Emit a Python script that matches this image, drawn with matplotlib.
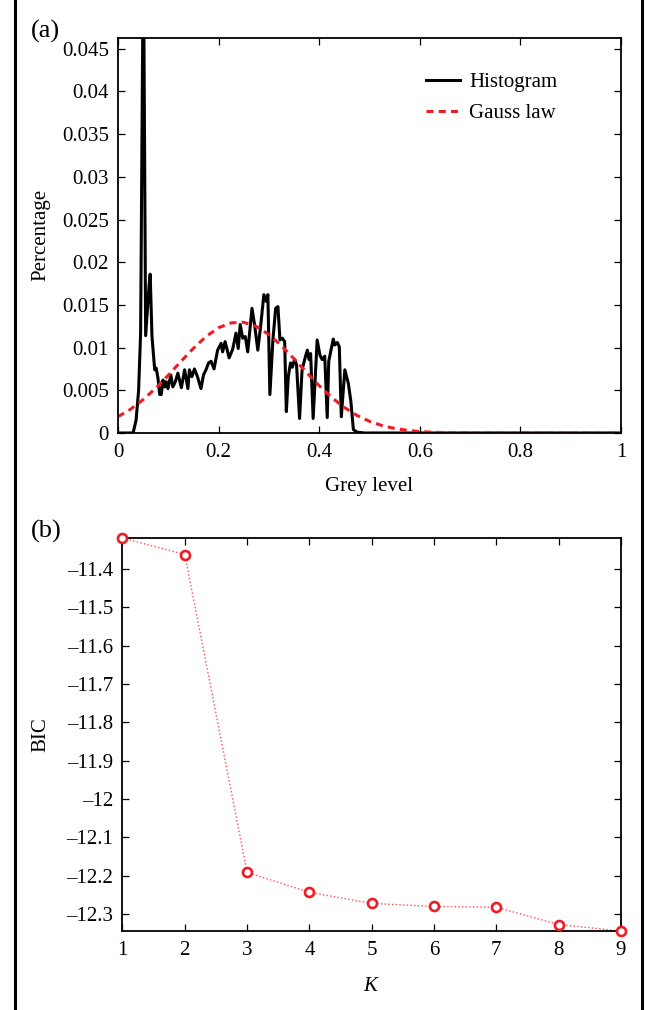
import numpy as np
import matplotlib
matplotlib.use("Agg")
import matplotlib.pyplot as plt
from matplotlib.ticker import FuncFormatter
from matplotlib.lines import Line2D

plt.rcParams['font.family'] = ['Liberation Serif', 'DejaVu Serif']
plt.rcParams['mathtext.fontset'] = 'custom'
plt.rcParams['mathtext.it'] = 'Liberation Serif:italic'

# (a) histogram
hist_x = [0.0, 0.03, 0.036, 0.041, 0.045, 0.0505, 0.055, 0.0616, 0.064, 0.0676,
          0.073, 0.076, 0.0795, 0.083, 0.086, 0.0895, 0.093, 0.096, 0.0994, 0.105,
          0.109, 0.114, 0.119, 0.126, 0.1325, 0.139, 0.142, 0.147, 0.152, 0.158,
          0.165, 0.17, 0.175, 0.18, 0.185, 0.191, 0.198, 0.205, 0.208, 0.213,
          0.221, 0.228, 0.2346, 0.239, 0.243, 0.248, 0.253, 0.258, 0.2664, 0.272,
          0.278, 0.2836, 0.29, 0.295, 0.298, 0.302, 0.308, 0.3135, 0.318, 0.322,
          0.3267, 0.3314, 0.3347, 0.3386, 0.343, 0.3466, 0.351, 0.355, 0.361, 0.366,
          0.372, 0.3764, 0.38, 0.383, 0.388, 0.396, 0.4016, 0.406, 0.411, 0.416,
          0.419, 0.428, 0.431, 0.436, 0.44, 0.444, 0.451, 0.458, 0.463, 0.468,
          0.475, 0.49, 1.0]
hist_y = [0.0, 0.0, 0.0015, 0.005, 0.0117, 0.058, 0.0114, 0.0171, 0.0186, 0.0113,
          0.0074, 0.0076, 0.0064, 0.0045, 0.0045, 0.0062, 0.0054, 0.006, 0.0052, 0.0068,
          0.0054, 0.006, 0.007, 0.0053, 0.0074, 0.0052, 0.0074, 0.0066, 0.0075, 0.0066,
          0.0052, 0.0068, 0.0074, 0.0082, 0.0084, 0.0075, 0.0097, 0.0105, 0.0095, 0.0107,
          0.0088, 0.0098, 0.0117, 0.0099, 0.0127, 0.0111, 0.0113, 0.0095, 0.0146, 0.0125,
          0.0097, 0.0125, 0.0162, 0.0154, 0.0162, 0.0045, 0.0109, 0.0146, 0.0148, 0.0109,
          0.0111, 0.0107, 0.0025, 0.0066, 0.0082, 0.0077, 0.0086, 0.008, 0.0017, 0.0074,
          0.0088, 0.0097, 0.0086, 0.0093, 0.0017, 0.0109, 0.0091, 0.0086, 0.009, 0.0018,
          0.0084, 0.011, 0.0103, 0.0106, 0.0101, 0.0019, 0.0074, 0.0058, 0.0037, 0.0004,
          0.0001, 0.0, 0.0]

# Gauss law read at steps of 0.025
gauss_x = [0.0, 0.025, 0.05, 0.075, 0.1, 0.125, 0.15, 0.175, 0.2, 0.225, 0.25,
           0.275, 0.3, 0.325, 0.35, 0.375, 0.4, 0.425, 0.45, 0.475, 0.5,
           0.525, 0.55, 0.575, 0.6, 0.625, 0.65, 0.675, 0.7, 1.0]
gauss_y = [0.00191, 0.00278, 0.00390, 0.00525, 0.00676, 0.00837, 0.00992, 0.01129,
           0.01233, 0.01290, 0.01296, 0.01248, 0.01153, 0.01022, 0.00869, 0.00708,
           0.00554, 0.00415, 0.00299, 0.00206, 0.00137, 0.00087, 0.00053, 0.00031,
           0.00017, 0.00009, 0.00005, 0.00002, 0.00001, 0.0]

# (b) BIC against number of classes
K = [1, 2, 3, 4, 5, 6, 7, 8, 9]
bic = [-11.319, -11.362, -12.191, -12.243, -12.272, -12.280, -12.282, -12.327, -12.344]

fs = 15


def g_fmt(v, pos):
    return ('%g' % round(v, 6)).replace('-', '\u2013')


def style(ax):
    ax.tick_params(direction='in', top=True, right=True, labelsize=fs,
                   length=5, width=0.9, colors='black')
    ax.tick_params(axis='x', pad=7)
    ax.tick_params(axis='y', pad=6.5)
    for s in ax.spines.values():
        s.set_linewidth(1.3)
    ax.xaxis.set_major_formatter(FuncFormatter(g_fmt))
    ax.yaxis.set_major_formatter(FuncFormatter(g_fmt))


fig = plt.figure(figsize=(6.54, 10.10), dpi=100)

ax1 = fig.add_axes([0.1804, 0.5713, 0.7691, 0.3914])
ax1.plot(hist_x, hist_y, color='black', lw=2.2, label='Histogram')
ax1.plot(gauss_x, gauss_y, color='#ee1c25', lw=2.2, ls=(0, (2.3, 1.7)), label='Gauss law')
ax1.set_xlim(0, 1)
ax1.set_ylim(0, 0.0463)
ax1.set_xticks([0, 0.2, 0.4, 0.6, 0.8, 1])
ax1.set_yticks(np.arange(0, 0.0451, 0.005))
style(ax1)
ax1.set_xlabel('Grey level', fontsize=fs)
ax1.set_ylabel('Percentage', fontsize=fs)
ax1.xaxis.set_label_coords(0.5, -0.111)
ax1.yaxis.set_label_coords(-0.135, 0.5)
ax1.legend(loc='upper left', bbox_to_anchor=(0.613, 0.912), frameon=False,
           fontsize=fs, borderpad=0, borderaxespad=0, handlelength=1.6,
           handletextpad=0.45, labelspacing=0.55)

ax2 = fig.add_axes([0.1873, 0.0782, 0.7622, 0.3891])
ax2.plot(K, bic, color='#ff4d55', lw=1.0, ls=':', zorder=2)
ax2.plot(K, bic, ls='none', marker='o', ms=6.5, mfc='white', mec='#ee1c25',
         mew=1.9, clip_on=False, zorder=3)
ax2.set_xlim(1, 9)
ax2.set_ylim(-12.344, -11.319)
ax2.set_xticks(K)
ax2.set_yticks([-11.4, -11.5, -11.6, -11.7, -11.8, -11.9, -12.0, -12.1, -12.2, -12.3])
style(ax2)
ax2.set_xlabel('$K$', fontsize=fs)
ax2.set_ylabel('BIC', fontsize=fs)
ax2.xaxis.set_label_coords(0.5, -0.117)
ax2.yaxis.set_label_coords(-0.145, 0.5)

fig.text(31 / 654, 1 - 31 / 1010, '(a)', fontsize=19, va='center', ha='left')
fig.text(31 / 654, 1 - 531 / 1010, '(b)', fontsize=19, va='center', ha='left')

# frame lines at the left and right edges
fig.add_artist(Line2D([15 / 654, 15 / 654], [0, 1], color='black', lw=2.2))
fig.add_artist(Line2D([642 / 654, 642 / 654], [0, 1], color='black', lw=2.2))

fig.savefig('out.png', dpi=100)
